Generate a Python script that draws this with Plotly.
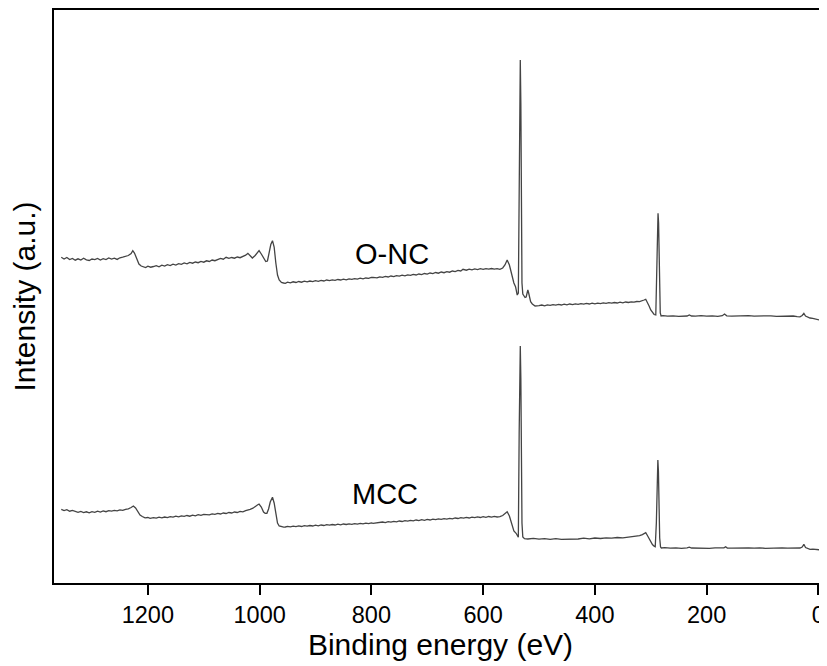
import plotly.graph_objects as go

# ---- data (binding energy in eV, intensity in a.u.) ----
be_onc = [1355, 1350, 1345, 1340, 1335, 1330, 1325, 1320, 1315, 1310, 1305, 1300, 1295, 1290, 1285, 1280,
          1275, 1270, 1265, 1260, 1255, 1250, 1245, 1240, 1235, 1230, 1227, 1224, 1220, 1216, 1212, 1208,
          1204, 1200, 1195, 1190, 1185, 1180, 1175, 1170, 1165, 1160, 1155, 1150, 1145, 1140, 1135, 1130,
          1125, 1120, 1115, 1110, 1105, 1100, 1095, 1090, 1085, 1080, 1075, 1070, 1065, 1060, 1055, 1050,
          1045, 1040, 1035, 1030, 1025, 1021, 1017, 1013, 1008, 1004, 1001, 997, 993, 989, 986, 983,
          980, 977, 974, 971, 968, 965, 961, 957, 954, 950, 945, 940, 935, 930, 925, 920,
          915, 910, 905, 900, 895, 890, 885, 880, 875, 870, 865, 860, 855, 850, 845, 840,
          835, 830, 825, 820, 815, 810, 805, 800, 797, 790, 785, 780, 775, 770, 765, 760,
          755, 750, 745, 740, 735, 730, 725, 720, 715, 710, 705, 700, 695, 690, 685, 680,
          675, 670, 665, 660, 655, 650, 645, 640, 636, 630, 625, 620, 615, 610, 605, 600,
          595, 590, 585, 580, 575, 570, 565, 561, 557, 553, 549, 545, 542, 539, 537, 535.5,
          534.5, 533.5, 532.5, 531.5, 530.5, 529, 527, 525, 523, 521.5, 520, 518.5, 517, 515, 512, 509,
          507, 500, 495, 490, 485, 480, 475, 470, 465, 460, 455, 450, 445, 440, 435, 430,
          425, 420, 415, 410, 405, 400, 395, 390, 385, 380, 375, 370, 365, 360, 355, 350,
          345, 340, 335, 330, 325, 320, 315, 312, 309, 306, 303, 300, 297, 294, 291, 289.5,
          288, 287, 286, 285, 284, 283, 281.5, 278, 270, 260, 250, 240, 235, 231, 227, 220,
          210, 200, 190, 180, 172, 168, 164, 155, 145, 135, 125, 115, 105, 95, 85, 75,
          65, 55, 45, 38, 33, 29, 26, 23, 19, 15, 10, 5, 0, -4, -8]
int_onc = [325.7, 324, 325.5, 323.5, 324.5, 322.8, 324.2, 323, 324.8, 323.2, 322.5, 324, 323.4, 324.6, 323, 324.3,
           323.5, 325, 324, 324.8, 323.6, 325.2, 325.8, 326.5, 327.5, 329.5, 332.3, 330, 324, 319, 317, 316.5,
           315.5, 316.8, 315.8, 316.5, 317.4, 316.2, 317.8, 317, 318.3, 317.5, 318.8, 318, 319.4, 318.6, 320, 319.2,
           320.6, 319.8, 321, 320.3, 321.6, 320.8, 322.2, 321.5, 323, 322.3, 323.5, 324.6, 323.8, 325.7, 324.6, 325.5,
           324.8, 326, 325.3, 326.5, 327.8, 329.7, 327, 325, 327.5, 330.5, 332.3, 329, 324.5, 321.5, 322, 330,
           338.5, 342.3, 336, 320, 308, 303, 300.5, 300, 299.7, 300.8, 300.2, 301.2, 300.5, 301.5, 300.8, 301.8,
           301.2, 302, 301.4, 302.3, 301.7, 302.6, 302, 303, 302.4, 303.2, 302.6, 303.5, 303, 303.8, 303.2, 304.2,
           303.6, 304.4, 303.8, 304.8, 304.2, 305, 304.6, 305.5, 305.7, 305.2, 306.2, 305.6, 306.6, 306, 307, 306.4,
           307.4, 306.8, 307.8, 307.2, 308.2, 307.6, 308.6, 308, 309, 308.4, 309.5, 308.9, 310, 309.4, 310.5, 309.8,
           311, 310.3, 311.4, 310.8, 312, 311.4, 312.6, 312, 313.7, 312.8, 313.9, 313.2, 314.1, 313.4, 314.3, 313.6,
           314.4, 313.8, 314.5, 313.9, 314.3, 313.7, 315, 318, 323, 318, 308, 300, 296.3, 288, 290, 400,
           490, 523, 480, 380, 300, 289, 286.3, 285.5, 286, 289, 293, 290, 284, 281.3, 279, 277.5,
           277, 277.4, 278, 277.2, 278.1, 277.6, 278.4, 277.8, 278.6, 278, 278.8, 278.2, 279, 278.4, 279.2, 278.6,
           279.4, 278.8, 279.6, 279, 279.8, 279.2, 279.9, 279.4, 280.1, 279.6, 280.3, 279.8, 280.5, 280, 280.8, 280.2,
           281, 280.5, 281.2, 280.8, 281.5, 281.3, 282, 283, 283.7, 281, 277, 273, 270, 268.5, 268, 300,
           345, 369.7, 360, 320, 285, 270, 267, 267.3, 266.8, 267.2, 266.7, 267.3, 267, 268, 267, 266.8,
           267.3, 266.9, 267.2, 266.7, 267.3, 269, 267.2, 266.9, 267.2, 266.8, 267.3, 266.9, 267.1, 266.8, 267.2, 266.7,
           267, 266.6, 267, 266.4, 266.2, 267.5, 269.7, 267, 266, 265, 264.6, 264, 263, 262.8, 262.3]

be_mcc = [1355, 1350, 1345, 1340, 1335, 1330, 1325, 1320, 1315, 1310, 1305, 1300, 1295, 1290, 1285, 1280,
          1275, 1270, 1265, 1260, 1255, 1250, 1245, 1240, 1235, 1230, 1226, 1222, 1218, 1214, 1210, 1205,
          1200, 1196, 1190, 1185, 1180, 1175, 1170, 1165, 1160, 1155, 1150, 1145, 1140, 1135, 1130, 1125,
          1120, 1115, 1110, 1105, 1100, 1095, 1090, 1085, 1080, 1075, 1070, 1065, 1060, 1055, 1050, 1045,
          1040, 1035, 1030, 1025, 1020, 1017, 1012, 1008, 1004, 1001, 997, 993, 990, 987, 984, 981,
          977, 974, 971, 968, 965, 961, 957, 954, 950, 945, 940, 935, 930, 925, 920, 915,
          910, 905, 900, 895, 890, 885, 880, 875, 870, 865, 860, 855, 850, 845, 840, 835,
          830, 825, 820, 815, 810, 805, 800, 797, 790, 785, 780, 775, 770, 765, 760, 755,
          750, 745, 740, 735, 730, 725, 720, 715, 710, 705, 700, 695, 690, 685, 680, 675,
          670, 665, 660, 655, 650, 645, 640, 635, 630, 625, 620, 615, 610, 605, 600, 595,
          590, 585, 580, 575, 570, 565, 561, 557, 553, 549, 545, 541, 537, 535.5, 534.5, 533.5,
          532.5, 531.5, 530.5, 529, 526, 520, 510, 500, 490, 480, 470, 460, 450, 440, 430, 420,
          410, 400, 390, 380, 370, 360, 350, 340, 331, 325, 320, 315, 312, 309, 306, 303,
          300, 297, 294, 292, 290, 288.5, 287.3, 286.3, 285.2, 284, 282.5, 281, 275, 265, 255, 245,
          235, 231, 227, 215, 205, 195, 185, 175, 169, 166, 163, 155, 145, 135, 125, 115,
          105, 95, 85, 75, 65, 55, 45, 37, 33, 29, 26, 23, 19, 15, 10, 5, 0, -4, -8]
int_mcc = [73.7, 72.5, 73.4, 71.8, 72.6, 71.2, 70.6, 71.5, 70.4, 71.2, 70.2, 71.4, 70.6, 71.8, 71, 72.1,
           71.3, 72.4, 71.8, 72.6, 72.2, 73.2, 72.6, 73.7, 74.2, 75.5, 77, 75, 71, 68, 66.5, 65.2,
           65.5, 64.7, 65.4, 64.8, 65.8, 65.2, 66, 65.4, 66.4, 65.8, 66.8, 66.2, 67.2, 66.6, 67.5, 66.8,
           67.8, 67.2, 68.3, 67.6, 68.6, 68.7, 68.2, 69.2, 68.6, 69.6, 69, 70, 69.5, 70.5, 70, 71,
           70.5, 71.6, 71.2, 72.3, 72.8, 73.7, 74.8, 76, 78, 79, 76, 71, 69.7, 69.7, 74, 81,
           85.7, 80, 68, 60, 57, 56.2, 55.8, 56, 56.6, 56.1, 56.9, 56.4, 57.1, 56.5, 57.3, 56.8,
           57.5, 57, 57.8, 57.2, 58, 57.5, 58.3, 57.8, 58.5, 58, 58.8, 58.2, 59, 58.5, 59.2, 58.7,
           59.4, 58.9, 59.7, 59.1, 59.9, 59.3, 60.1, 59.7, 60.3, 60, 61, 60.4, 61.4, 60.8, 61.7, 61.1,
           62, 61.5, 62.4, 61.8, 62.7, 62.1, 63, 62.4, 63.3, 62.7, 63.6, 63, 63.9, 63.3, 64.2, 63.6,
           64.4, 63.8, 64.7, 64.1, 65, 64.5, 65.3, 64.8, 65.6, 65, 65.9, 65.3, 66.1, 65.5, 66.3, 65.7,
           66.5, 65.9, 66.6, 66, 66.3, 67.5, 69.5, 71.3, 67, 58, 52, 49.7, 45.7, 150, 215, 237,
           205, 130, 60, 46, 44.3, 44, 44.6, 43.8, 44.4, 43.7, 44.3, 43.6, 43.7, 44.5, 44, 44.8,
           44.2, 45, 44.5, 45.2, 44.8, 45.5, 45.1, 45.8, 46.3, 46.9, 47.4, 48.4, 49.5, 50.3, 47.5, 44,
           41, 38.5, 36.8, 36.3, 60, 100, 123, 112, 75, 45, 36, 35, 35.3, 34.8, 35.2, 34.7,
           35.1, 35.8, 35, 34.8, 35.2, 34.7, 35.1, 34.8, 35.2, 36.3, 35, 34.8, 35.1, 34.7, 35.1, 34.8,
           35.2, 34.7, 35.1, 34.8, 35.2, 34.9, 35.1, 34.8, 35, 36, 38.7, 35.5, 34.6, 33.7, 33.8, 33.3, 33.4, 33.1, 33]

x_ticks = [1200, 1000, 800, 600, 400, 200, 0]
labels = ["O-NC", "MCC"]
label_x = [763, 776]
label_y = [329, 89]

FONT = "Liberation Sans, Arial, Helvetica, sans-serif"
LINE = "#444444"

fig = go.Figure()
fig.add_trace(go.Scatter(x=be_onc, y=int_onc, mode="lines", name="O-NC",
                         line=dict(color=LINE, width=1.3)))
fig.add_trace(go.Scatter(x=be_mcc, y=int_mcc, mode="lines", name="MCC",
                         line=dict(color=LINE, width=1.3)))

for t, lx, ly in zip(labels, label_x, label_y):
    fig.add_annotation(x=lx, y=ly, text=t, showarrow=False,
                       font=dict(family=FONT, size=29, color="black"))

# page body has an 8px margin, so the figure is sized to fit the 827x666 window
fig.update_layout(
    width=819, height=658,
    margin=dict(l=46, r=0, t=2, b=83),
    paper_bgcolor="white", plot_bgcolor="white",
    showlegend=False,
    font=dict(family=FONT, color="black"),
)
fig.update_xaxes(
    range=[1368, -15.4], tickvals=x_ticks, ticktext=[str(v) for v in x_ticks],
    ticks="outside", ticklen=10, tickwidth=2, tickcolor="black",
    showline=True, linewidth=2, linecolor="black", mirror=True,
    showgrid=False, zeroline=False, automargin=False, ticklabeloverflow="allow",
    tickfont=dict(family=FONT, size=23.5, color="black"),
    title=dict(text="Binding energy (eV)", font=dict(family=FONT, size=30, color="black"), standoff=6),
)
fig.update_yaxes(
    range=[0, 573], showticklabels=False, ticks="",
    showline=True, linewidth=2, linecolor="black", mirror=False,
    showgrid=False, zeroline=False, automargin=False,
    title=dict(text="Intensity (a.u.)", font=dict(family=FONT, size=30, color="black"), standoff=13),
)

fig.write_html("out.html")
